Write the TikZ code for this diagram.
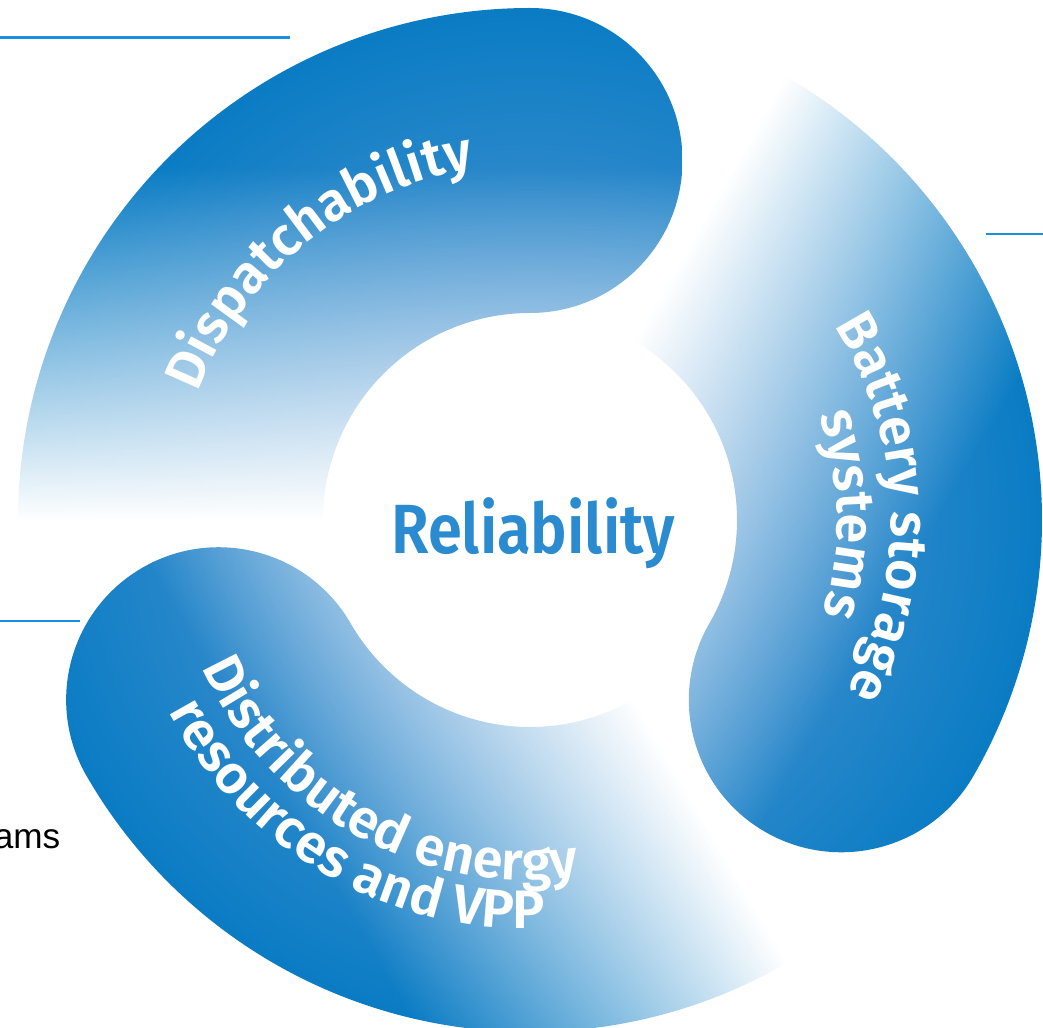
\documentclass[tikz,border=0pt]{standalone}
\usepackage{fontspec}
\setmainfont{Fira Sans}
\newfontfamily\ringfont{Fira Sans SemiBold}
\newfontfamily\notefont{Liberation Sans}
\usetikzlibrary{decorations.text,fadings}

\definecolor{armdeep}{HTML}{0A7CC4}
\definecolor{armlight}{HTML}{6A9FD6}
\definecolor{hubblue}{HTML}{2A8BD0}
\definecolor{ruleblue}{HTML}{1C8EE0}

\newcommand\ringsize{\ringfont\fontsize{15.4}{18}\selectfont}

\tikzset{
  ringlabel/.style={decorate, decoration={text along path, text align=center,
    text color=white, text={|\ringsize|#1}}},
  rule/.style={ruleblue, line width=0.7pt}
}

\begin{document}
\begin{tikzpicture}[x=0.01cm, y=0.01cm]
\useasboundingbox (-530,-507) rectangle (513,520);

% three arms, each drawn with its head at the top and then turned;
% the arm is clear below y=0 and solid from y=351 up
\foreach \h in {90,210,330}{
  \begin{scope}[transform canvas={rotate=\h-90}]
    \clip (184:512) arc[start angle=184, end angle=90, radius=512]
      arc[start angle=90, end angle=-90, radius=152.5]
      arc[start angle=90, end angle=184, radius=207] -- cycle;
    \shade[inner color=armlight, outer color=armdeep,
      path fading=south, fit fading=false,
      fading transform={shift={(0,175.7)}, xscale=3, yscale=2}]
      (0,0) circle[radius=512];
  \end{scope}
}

% labels on the arms
\path[ringlabel={Dispatchability}] (189:356) arc[start angle=189, end angle=69, radius=356];
\path[ringlabel={Battery storage}] (62:361) arc[start angle=62, end angle=-58, radius=361];
\path[ringlabel={systems}] (61:307) arc[start angle=61, end angle=-59, radius=307];
\path[ringlabel={Distributed energy}] (181:360) arc[start angle=181, end angle=301, radius=360];
\path[ringlabel={resources and VPP}] (180:409) arc[start angle=180, end angle=300, radius=409];

\node[anchor=base, text=hubblue, font=\ringfont\fontsize{18}{20}\selectfont,
  xscale=0.97, yscale=1.1, transform shape] (hub) at (3,-33) {Reliability};

% side rules and cut text
\coordinate (ruleA) at (-530,482);
\coordinate (ruleB) at (456,286);
\coordinate (ruleC) at (-530,-101);
\draw[rule, line width=0.85pt] (ruleA) -- ++(290,0);
\draw[rule] (ruleB) -- ++(60,0);
\draw[rule] (ruleC) -- ++(80,0);
\node[anchor=base east, inner sep=0pt, font=\notefont\fontsize{10}{12}\selectfont] (note) at (-469,-328) {ams};
\end{tikzpicture}
\end{document}
